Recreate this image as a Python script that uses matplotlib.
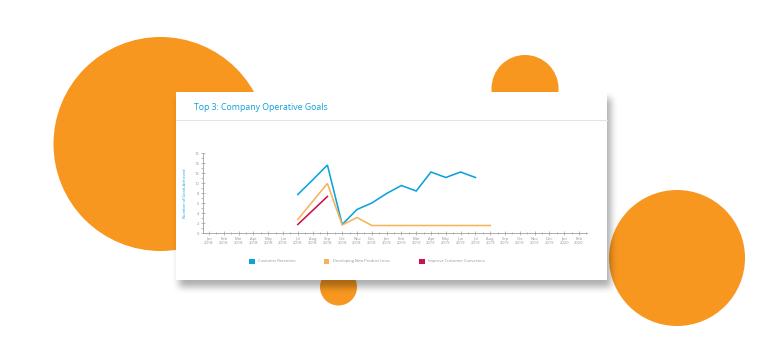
import numpy as np
import matplotlib
matplotlib.use("Agg")
import matplotlib.pyplot as plt
from matplotlib.patches import Circle, Rectangle
from matplotlib.ticker import MultipleLocator

# ── Data ──────────────────────────────────────────────────────────────────────
months = ["Jan", "Feb", "Mar", "Apr", "May", "Jun", "Jul", "Aug", "Sep",
          "Oct", "Nov", "Dec"]
tick_labels = [f"{months[i % 12]}\n{2018 + i // 12}" for i in range(26)]

retention_start = 6   # Jul 2018
retention = [7.7, 10.6, 13.6, 1.7, 4.7, 6.0, 7.9, 9.5, 8.4, 12.2, 11.1, 12.2, 11.1]
products_start = 6
products = [2.7, 6.3, 9.9, 1.6, 3.1, 1.5, 1.5, 1.5, 1.5, 1.5, 1.5, 1.5, 1.5, 1.5]
conversion_start = 6
conversion = [1.7, 4.5, 7.3]

series_names = ["Customer Retention", "Developing New Product Lines",
                "Improve Customer Conversion"]

# ── Colors ────────────────────────────────────────────────────────────────────
C = {
    "orange": "#F7971F",
    "blue":   "#0EA2DC",
    "peach":  "#F4B45A",
    "red":    "#D01048",
    "grey":   "#A0A0A0",
    "text":   "#959595",
    "line":   "#E4E4E4",
}

W, H, DPI = 777, 363, 100
plt.rcParams["font.family"] = ["Open Sans", "DejaVu Sans"]

fig = plt.figure(figsize=(W / DPI, H / DPI), dpi=DPI, facecolor="white")
bg = fig.add_axes([0, 0, 1, 1])
bg.set_xlim(0, W); bg.set_ylim(H, 0)
bg.axis("off")

# ── background circles ────────────────────────────────────────────────────────
for cx, cy, r in [(160.5, 144, 107), (525, 88.5, 33.5), (677, 258, 68), (338.5, 287, 18.5)]:
    bg.add_patch(Circle((cx, cy), r, color=C["orange"], lw=0, zorder=1))

# ── card shadow ───────────────────────────────────────────────────────────────
cx0, cy0, cx1, cy1 = 176, 92, 607, 280
mask = np.zeros((H, W))
mask[cy0 + 6:cy1 + 7, cx0 + 3:cx1 + 4] = 1.0
k = np.ones(7) / 7
for _ in range(3):
    mask = np.apply_along_axis(lambda m: np.convolve(m, k, mode="same"), 1, mask)
    mask = np.apply_along_axis(lambda m: np.convolve(m, k, mode="same"), 0, mask)
shadow = np.zeros((H, W, 4))
shadow[..., 3] = mask * 0.32
bg.imshow(shadow, extent=[0, W, H, 0], zorder=2, interpolation="bilinear")

# ── card ──────────────────────────────────────────────────────────────────────
bg.add_patch(Rectangle((cx0, cy0), cx1 - cx0, cy1 - cy0, facecolor="white",
                       edgecolor="none", zorder=3))
bg.plot([cx0, cx1], [120, 120], color=C["line"], lw=0.8, zorder=4)
bg.text(193.5, 107, "Top 3: Company Operative Goals", color=C["blue"],
        fontsize=6.3, va="center", ha="left", zorder=5)

# ── legend ────────────────────────────────────────────────────────────────────
for name, col, x in zip(series_names, [C["blue"], C["peach"], C["red"]], [249, 323.5, 419]):
    bg.add_patch(Rectangle((x, 258.5), 5.5, 5.5, facecolor=col, edgecolor="none", zorder=5))
    bg.text(x + 9.5, 261.3, name, color=C["text"], fontsize=2.9,
            va="center", ha="left", zorder=5)

# ── chart ─────────────────────────────────────────────────────────────────────
ax = fig.add_axes([203 / W, 1 - 233 / H, (587 - 203) / W, 80 / H], zorder=6)
ax.patch.set_alpha(0)
ax.set_xlim(-0.405, 25.54)
ax.set_ylim(0, 16)

ax.plot(range(retention_start, retention_start + len(retention)), retention,
        color=C["blue"], lw=1.15, solid_joinstyle="miter")
ax.plot(range(products_start, products_start + len(products)), products,
        color=C["peach"], lw=1.15, solid_joinstyle="miter")
ax.plot(range(conversion_start, conversion_start + len(conversion)), conversion,
        color=C["red"], lw=1.15)

for s in ["top", "right"]:
    ax.spines[s].set_visible(False)
for s in ["left", "bottom"]:
    ax.spines[s].set_color(C["grey"])
    ax.spines[s].set_linewidth(0.6)

ax.set_xticks(range(26))
ax.set_xticklabels(tick_labels)
ax.xaxis.set_minor_locator(MultipleLocator(0.5))
ax.set_yticks(range(0, 17, 2))
ax.yaxis.set_minor_locator(MultipleLocator(1))
ax.tick_params(axis="both", which="major", labelsize=3.0, labelcolor=C["text"],
               color=C["grey"], width=0.5, length=2.5, pad=1.5)
ax.tick_params(axis="both", which="minor", color=C["grey"], width=0.5, length=1.5)
ax.tick_params(axis="y", direction="inout")
ax.tick_params(axis="x", which="both", direction="inout")
for lab in ax.get_xticklabels():
    lab.set_linespacing(1.0)

fig.text(185 / W, 1 - 193 / H, "Number of Goals Achieved", color=C["blue"],
         fontsize=2.9, rotation=90, va="center", ha="center", zorder=7)

fig.savefig("out.png", dpi=DPI, facecolor="white")
